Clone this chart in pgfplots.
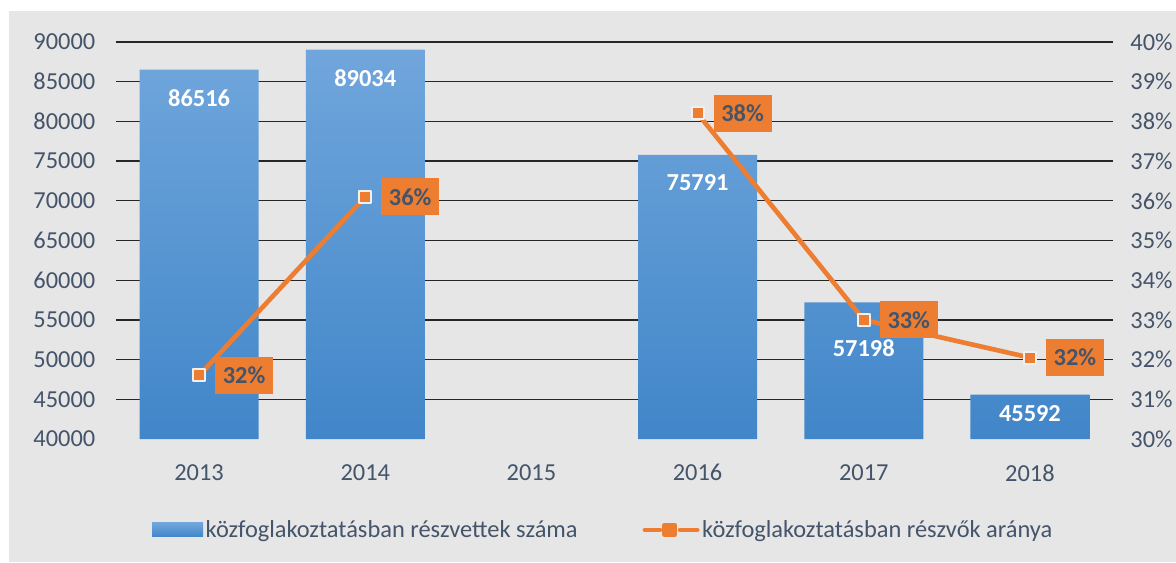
\documentclass[border=0pt]{standalone}
\usepackage{pgfplots}
\pgfplotsset{compat=1.18}
\usepackage{pgfplotstable}
\usepackage{fontspec}
\setmainfont{Carlito}
\definecolor{bg}{HTML}{E7E6E6}
\definecolor{barTop}{HTML}{70A6DC}
\definecolor{barBot}{HTML}{4186C9}
\definecolor{orng}{HTML}{ED7D31}
\definecolor{txt}{HTML}{44546A}
\definecolor{gridc}{HTML}{262626}
\newcommand\cf{\fontsize{18.3}{22}\selectfont}

\pgfplotstableread{
x val lab dy
0 86516 86516 21
1 89034 89034 21
3 75791 75791 21
4 57198 57198 34
5 45592 45592 14.5
}\bars

\pgfplotstableread{
x p lab
0 31.6 32\%
1 36.1 36\%
2 nan {}
3 38.2 38\%
4 33.0 33\%
5 32.05 32\%
}\share

\pgfplotsset{barlab/.style={draw=none, mark=none, forget plot,
  nodes near coords, point meta=explicit symbolic, unbounded coords=discard,
  x filter/.expression={abs(\thisrow{dy}-#1)<0.1 ? x : nan},
  nodes near coords style={anchor=center, yshift=-#1pt, text=white, font=\cf\bfseries}}}

\begin{document}
\begin{tikzpicture}
\path[use as bounding box] (0,0) rectangle (882pt,421.5pt);
\fill[white] (0,0) rectangle (882pt,421.5pt);
\fill[bg] (6.75pt,0) rectangle (882pt,413.25pt);

\begin{axis}[
  at={(87pt,92.25pt)}, anchor=south west, scale only axis,
  width=747.75pt, height=297.75pt,
  xmin=-0.5, xmax=5.5, ymin=40000, ymax=90000,
  xtick={0,...,5}, xticklabels={2013,2014,2015,2016,2017,2018},
  ytick={45000,50000,...,90000},
  extra y ticks={40000}, extra y tick style={grid=none},
  scaled y ticks=false,
  /pgf/number format/1000 sep={},
  /pgf/number format/assume math mode=true,
  axis line style={draw=none}, major tick length=0,
  ymajorgrids, grid style={gridc, line width=1pt},
  ticklabel style={font=\cf, text=txt},
  yticklabel style={xshift=-12pt},
  xticklabel style={yshift=-15.5pt},
]
\addplot[ybar, bar width=89.25pt, draw=none, top color=barTop, bottom color=barBot]
  table[x=x, y=val] {\bars};
\addplot[barlab=21] table[x=x, y=val, meta=lab] {\bars};
\addplot[barlab=34] table[x=x, y=val, meta=lab] {\bars};
\addplot[barlab=14.5] table[x=x, y=val, meta=lab] {\bars};
\end{axis}

\begin{axis}[
  at={(87pt,92.25pt)}, anchor=south west, scale only axis,
  width=747.75pt, height=297.75pt,
  xmin=-0.5, xmax=5.5, ymin=30, ymax=40,
  axis line style={draw=none}, major tick length=0,
  xtick=\empty, ytick={30,31,...,40}, yticklabel pos=right,
  yticklabels={30\%,31\%,32\%,33\%,34\%,35\%,36\%,37\%,38\%,39\%,40\%},
  ticklabel style={font=\cf, text=txt},
  yticklabel style={xshift=9.5pt},
  legend style={at={(axis description cs:0.489,-0.229)}, anchor=center,
    draw=none, fill=none, font=\cf, text=txt,
    /tikz/every even column/.append style={column sep=46.75pt}},
  legend columns=2,
]
\addlegendimage{legend image code/.code={\fill[draw=none, top color=barTop,bottom color=barBot] (0pt,-5.25pt) rectangle (38.25pt,5.25pt);}}
\addlegendentry{közfoglakoztatásban részvettek száma}
\addplot[orng, line width=3.5pt, line join=round, unbounded coords=jump,
  mark=square*, mark size=4.5pt,
  mark options={fill=orng, draw=white!88!gray, line width=1.5pt},
  nodes near coords, point meta=explicit symbolic,
  nodes near coords style={anchor=west, xshift=11.25pt, fill=orng, text=txt,
    font=\cf\bfseries, minimum width=43.5pt, minimum height=27.75pt, inner sep=0pt},
  legend image code/.code={
    \draw[orng, line width=3.4pt, line cap=round] (1.7pt,0pt) -- (13pt,0pt);
    \draw[orng, line width=3.4pt, line cap=round] (28pt,0pt) -- (41pt,0pt);
    \fill[orng] (16.5pt,-3.6pt) rectangle (24pt,3.6pt);}
  ]
  table[x=x, y=p, meta=lab] {\share};
\addlegendentry{közfoglakoztatásban részvők aránya}
\end{axis}
\end{tikzpicture}
\end{document}
